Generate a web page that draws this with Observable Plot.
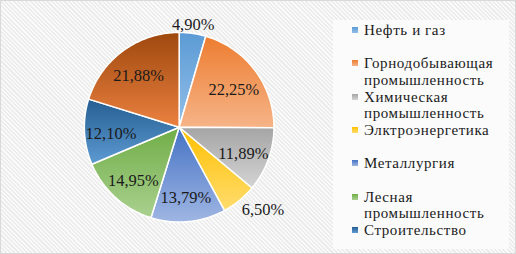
<!DOCTYPE html>
<html>
<head>
<meta charset="utf-8">
<script src="https://cdn.jsdelivr.net/npm/d3@7"></script>
<script src="https://cdn.jsdelivr.net/npm/@observablehq/plot@0.6"></script>
<style>
  html, body { margin: 0; padding: 0; background: #fff; }
  #wrap {
    position: relative; width: 516px; height: 254px; box-sizing: border-box;
    border: 1px solid #d9d9d9;
    background: repeating-linear-gradient(45deg, #ececec 0px, #ececec 1.5px, #fafafa 1.5px, #fafafa 3px);
    overflow: hidden;
  }
  #chart { position: absolute; left: -1px; top: -1px; }
  #legend {
    position: absolute; left: 332px; top: 19px; width: 176px; height: 229px;
    background: #fbfbfb;
  }
  .item { position: absolute; left: 31px; font-size: 15px; line-height: 16.4px; letter-spacing: 0.6px; color: #1a1a1a; white-space: nowrap; }
  .sw { position: absolute; left: -12px; top: 5px; width: 6px; height: 6px; }
</style>
</head>
<body>
<div id="wrap">
  <div id="chart"></div>
  <div id="legend"></div>
</div>
<script>
// Data
const categories = [
  "Нефть и газ",
  "Горнодобывающая промышленность",
  "Химическая промышленность",
  "Элктроэнергетика",
  "Металлургия",
  "Лесная промышленность",
  "Строительство",
  ""
];
const values = [4.90, 22.25, 11.89, 6.50, 13.79, 14.95, 12.10, 21.88];
const legendLines = [
  ["Нефть и газ"],
  ["Горнодобывающая", "промышленность"],
  ["Химическая", "промышленность"],
  ["Элктроэнергетика"],
  ["Металлургия"],
  ["Лесная", "промышленность"],
  ["Строительство"]
];

// Styles
const serif = "'Liberation Serif', 'Times New Roman', serif";
const topColors = ["#5b9bd5", "#ed7d31", "#a5a5a5", "#ffc000", "#4472c4", "#70ad47", "#255e91", "#9e480e"];
const bottomColors = ["#93bfe8", "#f6b488", "#d4d4d4", "#ffdc6e", "#9fb6e3", "#aad18f", "#5d9bd3", "#eb8140"];

const total = d3.sum(values);
const slices = [];
let acc = 0;
values.forEach((v, i) => {
  const a0 = acc / total * 2 * Math.PI;
  acc += v;
  const a1 = acc / total * 2 * Math.PI;
  slices.push({i, v, a0, a1, mid: (a0 + a1) / 2});
});

const pts = [];
for (const s of slices) {
  pts.push({i: s.i, x: 0, y: 0});
  const n = Math.max(4, Math.ceil((s.a1 - s.a0) / (Math.PI / 180)));
  for (let k = 0; k <= n; k++) {
    const a = s.a0 + (s.a1 - s.a0) * k / n;
    pts.push({i: s.i, x: Math.sin(a), y: Math.cos(a)});
  }
  pts.push({i: s.i, x: 0, y: 0});
}

const fmt = v => v.toFixed(2).replace(".", ",") + "%";
const inside = slices.filter(s => s.v >= 8).map(s => ({
  x: 0.72 * Math.sin(s.mid), y: 0.72 * Math.cos(s.mid), text: fmt(s.v)
}));
const outside = slices.filter(s => s.v < 8).map(s => {
  const sx = Math.sin(s.mid), cy = Math.cos(s.mid);
  return {
    x: 1.04 * sx, y: 1.04 * cy, text: fmt(s.v),
    anchor: sx > 0.5 ? "start" : sx < -0.5 ? "end" : "middle",
    line: cy > 0 ? "bottom" : "top"
  };
});

const plot = Plot.plot({
  width: 516, height: 254, margin: 0,
  style: {background: "transparent", overflow: "visible", fontFamily: serif},
  x: {domain: [-1, 1], range: [84, 274], axis: null},
  y: {domain: [-1, 1], range: [222, 32], axis: null},
  color: {type: "identity"},
  marks: [
    Plot.line(pts, {x: "x", y: "y", z: "i", fill: d => `url(#g${d.i})`, stroke: "white", strokeWidth: 1.5, curve: "linear"}),
    Plot.text(inside, {x: "x", y: "y", text: "text", dy: 3, fontSize: 16.5, fontFamily: serif, fill: "#1a1a1a"}),
    ...outside.map(d => Plot.text([d], {x: "x", y: "y", text: "text", textAnchor: d.anchor, lineAnchor: d.line,
      fontSize: 16.5, fontFamily: serif, fill: "#1a1a1a"}))
  ]
});

const svg = d3.select(plot);
svg.selectAll("text").style("font-family", serif);
const defs = svg.insert("defs", ":first-child");
topColors.forEach((c, i) => {
  const g = defs.append("linearGradient").attr("id", `g${i}`)
    .attr("x1", 0).attr("y1", 0).attr("x2", 0).attr("y2", 1);
  g.append("stop").attr("offset", "0%").attr("stop-color", c);
  g.append("stop").attr("offset", "100%").attr("stop-color", bottomColors[i]);
});
document.getElementById("chart").appendChild(plot);

const legend = document.getElementById("legend");
legendLines.forEach((lines, i) => {
  const div = document.createElement("div");
  div.className = "item";
  div.style.fontFamily = serif;
  div.style.top = (1.8 + i * 33.4) + "px";
  div.innerHTML = lines.join("<br>");
  const sw = document.createElement("div");
  sw.className = "sw";
  sw.style.background = `linear-gradient(${topColors[i]}, ${bottomColors[i]})`;
  div.appendChild(sw);
  legend.appendChild(div);
});
</script>
</body>
</html>
